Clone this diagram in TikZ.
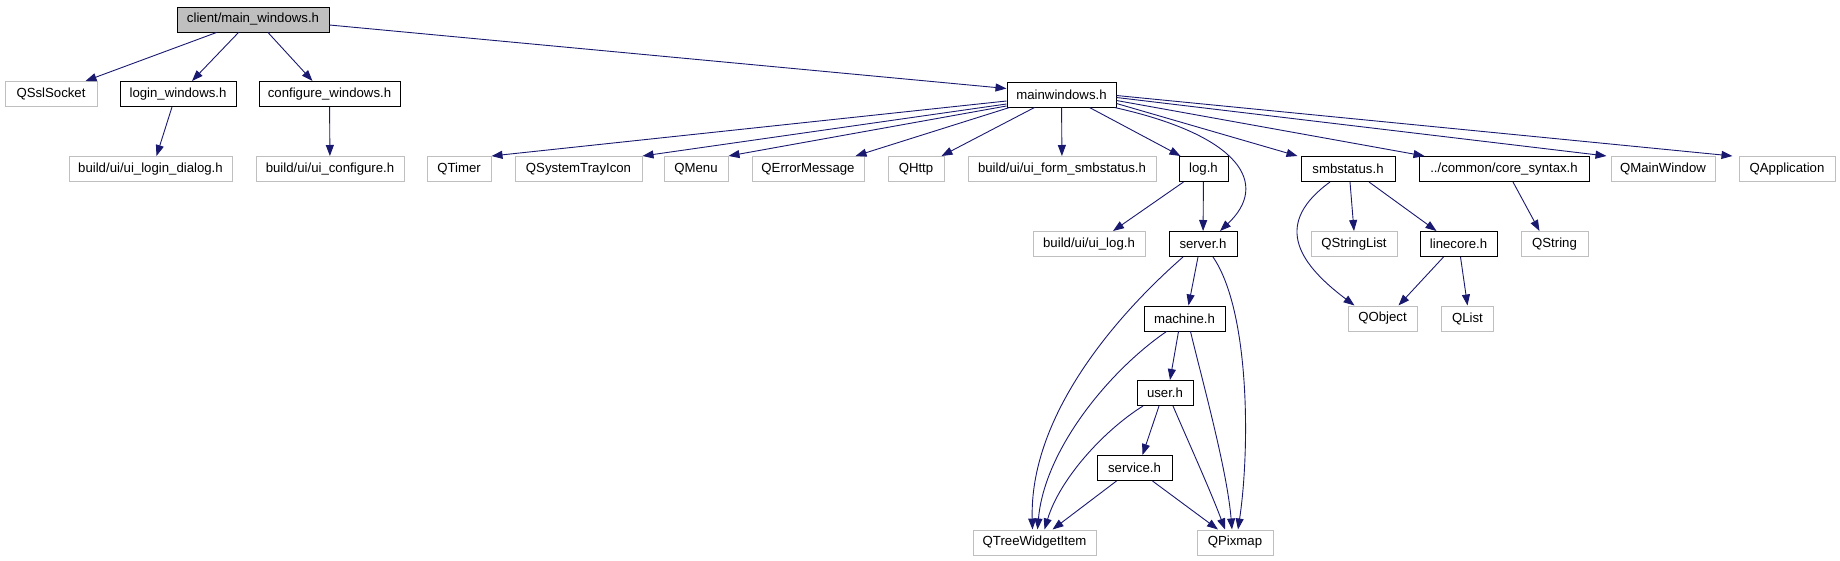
\documentclass[tikz,border=0pt]{standalone}
\usepackage{fontspec}
\setmainfont{Liberation Sans}
\usetikzlibrary{arrows.meta}
\definecolor{midnightblue}{RGB}{25,25,112}
\definecolor{boxgray}{RGB}{191,191,191}
\tikzset{
  hdr/.style={draw=black, line width=1pt, inner sep=0pt, minimum height=25pt,
    font=\fontsize{13.2}{15}\selectfont},
  sysh/.style={hdr, draw=boxgray},
  toph/.style={hdr, fill=boxgray},
  incl/.style={draw=midnightblue, line width=0.9pt, -{Triangle[length=11pt,width=8pt]}},
}
\begin{document}
\begin{tikzpicture}[x=1pt,y=-1pt]
\useasboundingbox (0,0) rectangle (1840,560);
% headers
\node[toph, minimum width=152] (client) at (253,19.5) {client/main\_windows.h};
\node[sysh, minimum width=92] (qsslsocket) at (51,94) {QSslSocket};
\node[hdr, minimum width=116] (login) at (178,94) {login\_windows.h};
\node[hdr, minimum width=141] (configure) at (329.5,94) {configure\_windows.h};
\node[hdr, minimum width=109] (mainwin) at (1061.5,94.5) {mainwindows.h};
\node[sysh, minimum width=163] (uilogin) at (150.5,169) {build/ui/ui\_login\_dialog.h};
\node[sysh, minimum width=148] (uiconfigure) at (330,169) {build/ui/ui\_configure.h};
\node[sysh, minimum width=64] (qtimer) at (459,169) {QTimer};
\node[sysh, minimum width=127] (qtray) at (578.5,169) {QSystemTrayIcon};
\node[sysh, minimum width=64] (qmenu) at (696,169) {QMenu};
\node[sysh, minimum width=112] (qerror) at (808,169) {QErrorMessage};
\node[sysh, minimum width=56] (qhttp) at (916,169) {QHttp};
\node[sysh, minimum width=188] (uismb) at (1062,169) {build/ui/ui\_form\_smbstatus.h};
\node[hdr, minimum width=49] (logh) at (1203.5,169) {log.h};
\node[hdr, minimum width=94] (smbstatus) at (1348,169) {smbstatus.h};
\node[hdr, minimum width=170] (coresyntax) at (1504,169) {../common/core\_syntax.h};
\node[sysh, minimum width=104] (qmainwindow) at (1663,169) {QMainWindow};
\node[sysh, minimum width=96] (qapplication) at (1787,169) {QApplication};
\node[sysh, minimum width=112] (uilog) at (1089,244) {build/ui/ui\_log.h};
\node[hdr, minimum width=68] (server) at (1203,244) {server.h};
\node[sysh, minimum width=86] (qstringlist) at (1354,244) {QStringList};
\node[hdr, minimum width=77] (linecore) at (1458.5,244) {linecore.h};
\node[sysh, minimum width=67] (qstring) at (1554.5,244) {QString};
\node[hdr, minimum width=81] (machine) at (1184.5,318.5) {machine.h};
\node[sysh, minimum width=69] (qobject) at (1382.5,318.5) {QObject};
\node[sysh, minimum width=52] (qlist) at (1467.5,318.5) {QList};
\node[hdr, minimum width=56] (user) at (1165,393) {user.h};
\node[hdr, minimum width=75] (service) at (1134.5,468) {service.h};
\node[sysh, minimum width=123] (qtreeitem) at (1034.5,542.5) {QTreeWidgetItem};
\node[sysh, minimum width=76] (qpixmap) at (1235,542.5) {QPixmap};
% includes of client/main_windows.h
\draw[incl] ([xshift=40pt]client.south west) -- ([xshift=-12pt]qsslsocket.north east);
\draw[incl] ([xshift=62pt]client.south west) -- ([xshift=14pt]login.north);
\draw[incl] ([xshift=15pt]client.south) -- ([xshift=-17pt]configure.north);
\draw[incl] ([yshift=-5.5pt]client.east) -- ([yshift=6pt]mainwin.west);
\draw[incl] ([xshift=-6pt]login.south) -- ([xshift=6pt]uilogin.north);
\draw[incl] (configure) -- (uiconfigure);
% includes of mainwindows.h
\draw[incl] ([yshift=-6.5pt]mainwin.west) -- (qtimer.north east);
\draw[incl] ([yshift=-9.5pt]mainwin.west) -- (qtray.north east);
\draw[incl] ([yshift=-11.5pt]mainwin.west) -- (qmenu.north east);
\draw[incl] ([xshift=3pt]mainwin.south west) -- ([xshift=-9pt]qerror.north east);
\draw[incl] ([xshift=28pt]mainwin.south west) -- ([xshift=-3pt]qhttp.north east);
\draw[incl] (mainwin) -- (uismb);
\draw[incl] ([xshift=-27pt]mainwin.south east) -- ([xshift=2pt]logh.north west);
\draw[incl] ([xshift=-2pt]mainwin.south east) .. controls +(126,28) and +(50,-47) .. ([xshift=17pt]server.north);
\draw[incl] ([yshift=-9pt]mainwin.east) -- ([xshift=-3pt]smbstatus.north west);
\draw[incl] ([yshift=-6pt]mainwin.east) -- ([xshift=6pt]coresyntax.north west);
\draw[incl] ([yshift=-3pt]mainwin.east) -- ([xshift=-4pt]qmainwindow.north west);
\draw[incl] ([yshift=-1pt]mainwin.east) -- ([xshift=-6pt]qapplication.north west);
% second level
\draw[incl] ([xshift=-20pt]logh.south) -- ([xshift=24pt]uilog.north);
\draw[incl] (logh) -- (server);
\draw[incl] ([xshift=2pt]smbstatus.south) -- (qstringlist.north);
\draw[incl] ([xshift=21pt]smbstatus.south) -- ([xshift=17pt]linecore.north west);
\draw[incl] ([xshift=-18pt]smbstatus.south) .. controls +(-55,40) and +(-60,-45) .. ([xshift=7pt]qobject.north west);
\draw[incl] ([xshift=9pt]coresyntax.south) -- ([xshift=-15pt]qstring.north);
\draw[incl] ([xshift=-15pt]linecore.south) -- ([xshift=16pt]qobject.north);
\draw[incl] ([xshift=2pt]linecore.south) -- (qlist.north);
% server.h and below
\draw[incl] ([xshift=-5pt]server.south) -- ([xshift=4pt]machine.north);
\draw[incl] ([xshift=-20pt]server.south) .. controls +(-73,64) and +(-3,-110) .. ([xshift=-2pt]qtreeitem.north);
\draw[incl] ([xshift=10pt]server.south) .. controls +(37,54) and +(12,-80) .. ([xshift=3pt]qpixmap.north);
\draw[incl] ([xshift=-6pt]machine.south) -- ([xshift=5pt]user.north);
\draw[incl] ([xshift=-18pt]machine.south) .. controls +(-57,39) and +(7,-80) .. ([xshift=3pt]qtreeitem.north);
\draw[incl] ([xshift=6pt]machine.south) .. controls +(12,50) and +(-5,-60) .. ([xshift=-3pt]qpixmap.north);
\draw[incl] ([xshift=-6pt]user.south) -- ([xshift=8pt]service.north);
\draw[incl] ([xshift=-22pt]user.south) .. controls +(-40,25) and +(15,-50) .. ([xshift=10pt]qtreeitem.north);
\draw[incl] ([xshift=8pt]user.south) .. controls +(15,35) and +(-15,-40) .. ([xshift=-10pt]qpixmap.north);
\draw[incl] ([xshift=-18pt]service.south) -- ([xshift=18pt]qtreeitem.north);
\draw[incl] ([xshift=18pt]service.south) -- ([xshift=-17pt]qpixmap.north);
\end{tikzpicture}
\end{document}
